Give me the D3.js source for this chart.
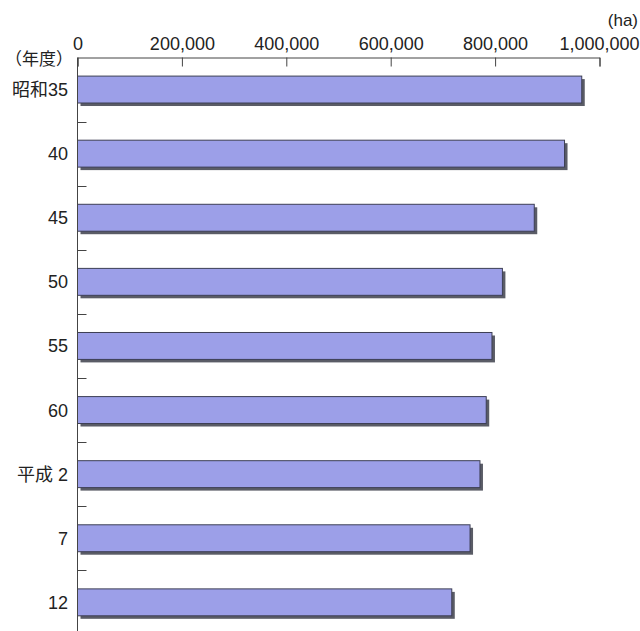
<!DOCTYPE html>
<html><head><meta charset="utf-8">
<script src="https://cdn.jsdelivr.net/npm/d3@7"></script>
<style>
html,body{margin:0;padding:0;background:#fff;}
svg{display:block;}
text{font-family:"Liberation Sans","Noto Sans CJK JP",Arial,sans-serif;fill:#222;}
</style></head>
<body>
<svg id="chart" width="640" height="631"></svg>
<script>
const categories = ["昭和35","40","45","50","55","60","平成 2","7","12"];
const values = [966000, 933000, 875000, 814000, 794000, 783000, 771000, 752000, 717000];
const xTicks = [0, 200000, 400000, 600000, 800000, 1000000];
const unitLabel = "(ha)";
const yearLabel = "（年度）";

(function(){
const svg = d3.select("#chart");
const mLeft = 77.5, mRight = 599.5, mTop = 57.5, step = 64.1;
const x = d3.scaleLinear().domain([0, 1000000]).range([mLeft, mRight]);
const y = d3.scaleBand().domain(categories)
  .range([mTop, mTop + step * categories.length])
  .paddingInner(0.58).paddingOuter(0.29);

// bars shadow
svg.append("g").selectAll("rect").data(categories).join("rect")
  .attr("x", x(0) + 3)
  .attr("y", d => y(d) + 3)
  .attr("width", (d, i) => x(values[i]) - x(0))
  .attr("height", y.bandwidth())
  .attr("fill", "#5a5c66");
// bars
svg.append("g").selectAll("rect").data(categories).join("rect")
  .attr("x", x(0))
  .attr("y", d => y(d))
  .attr("width", (d, i) => x(values[i]) - x(0))
  .attr("height", y.bandwidth())
  .attr("fill", "#9c9fe8")
  .attr("stroke", "#3d3f55")
  .attr("stroke-width", 1);

// top axis
const xAxis = d3.axisTop(x).tickValues(xTicks)
  .tickFormat(d3.format(","))
  .tickSizeInner(-9).tickSizeOuter(-9).tickPadding(8);
const gx = svg.append("g").attr("transform", `translate(0,${mTop})`).call(xAxis);
gx.selectAll("path,line").attr("stroke", "#444").attr("stroke-width", 1);
gx.selectAll("text").attr("font-size", 18).attr("fill", "#222")
  .style("font-family", '"Liberation Sans",Arial,sans-serif');
gx.selectAll(".tick").filter(d => d === 1000000).select("text")
  .attr("text-anchor", "end").attr("x", 39.5);

// left axis line
svg.append("line").attr("x1", mLeft).attr("x2", mLeft)
  .attr("y1", mTop).attr("y2", 640)
  .attr("stroke", "#444").attr("stroke-width", 1);
// left ticks at band boundaries (pointing inward)
svg.append("g").selectAll("line").data(categories).join("line")
  .attr("x1", mLeft).attr("x2", mLeft + 9)
  .attr("y1", d => Math.round(y(d) + y.bandwidth() / 2 + step / 2) + 0.5)
  .attr("y2", d => Math.round(y(d) + y.bandwidth() / 2 + step / 2) + 0.5)
  .attr("stroke", "#444").attr("stroke-width", 1);

// category labels
svg.append("g").selectAll("text").data(categories).join("text")
  .attr("x", 68)
  .attr("y", d => y(d) + y.bandwidth() / 2)
  .attr("dy", "0.36em")
  .attr("text-anchor", "end")
  .attr("font-size", 18)
  .text(d => d);

svg.append("text").attr("x", 73).attr("y", 59).attr("dy", "0.36em")
  .attr("text-anchor", "end").attr("font-size", 17).text(yearLabel);
svg.append("text").attr("x", 638).attr("y", 20).attr("dy", "0.36em")
  .attr("text-anchor", "end").attr("font-size", 17).text(unitLabel);
})();
</script>
</body></html>
